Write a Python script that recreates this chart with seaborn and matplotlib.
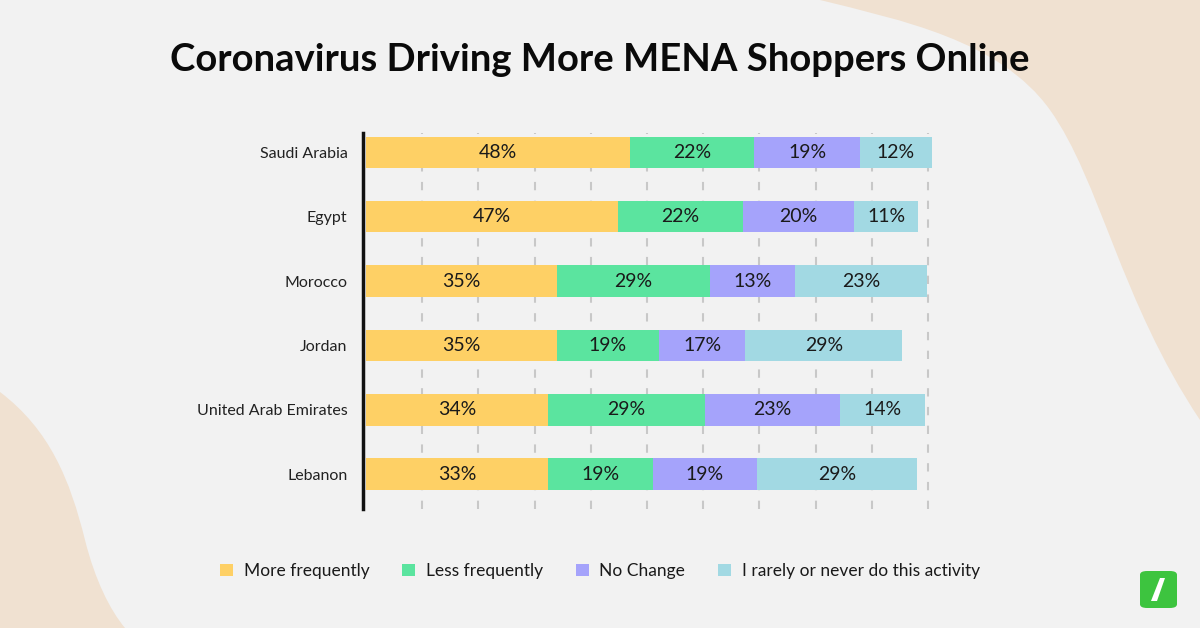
import numpy as np
import pandas as pd
import matplotlib
matplotlib.use("Agg")
import matplotlib.pyplot as plt
import seaborn as sns
from matplotlib.patches import Patch, PathPatch, FancyBboxPatch, Polygon
from matplotlib.path import Path

# data (segment widths in % of the axis, labels as printed)
countries = ["Saudi Arabia", "Egypt", "Morocco", "Jordan", "United Arab Emirates", "Lebanon"]
series = ["More frequently", "Less frequently", "No Change", "I rarely or never do this activity"]
more_freq = [46.9, 44.8, 33.9, 34.0, 32.3, 32.3]
less_freq = [22.2, 22.2, 27.3, 18.1, 28.0, 18.7]
no_change = [18.8, 19.8, 15.2, 15.4, 24.1, 18.6]
rarely = [12.8, 11.5, 23.4, 27.9, 15.1, 28.5]
more_lbl = ["48%", "47%", "35%", "35%", "34%", "33%"]
less_lbl = ["22%", "22%", "29%", "19%", "29%", "19%"]
nochg_lbl = ["19%", "20%", "13%", "17%", "23%", "19%"]
rarely_lbl = ["12%", "11%", "23%", "29%", "14%", "29%"]

colors = ["#FED065", "#5BE49F", "#A5A3FB", "#A2D9E3"]
bg = "#F2F2F2"
peach = "#F0E1D1"

sns.set_theme(style="white")
plt.rcParams["font.family"] = ["Lato", "DejaVu Sans"]

W, H = 1200, 628
fig = plt.figure(figsize=(W / 100, H / 100), dpi=100, facecolor=bg)


def px(x, y):
    return (x / W, 1 - y / H)


# background blobs
def blob(pts, codes):
    verts = [px(x, y) for x, y in pts]
    p = PathPatch(Path(verts, codes), facecolor=peach, edgecolor="none",
                  transform=fig.transFigure, zorder=0)
    fig.add_artist(p)


C4 = Path.CURVE4
blob([(820, 0), (900, 20), (1000, 40), (1050, 110),
      (1100, 180), (1120, 300), (1200, 420),
      (1200, 0), (820, 0)],
     [Path.MOVETO, C4, C4, C4, C4, C4, C4, Path.LINETO, Path.CLOSEPOLY])
blob([(0, 392), (50, 430), (70, 480), (85, 540),
      (95, 580), (110, 610), (125, 628),
      (0, 628), (0, 392)],
     [Path.MOVETO, C4, C4, C4, C4, C4, C4, Path.LINETO, Path.CLOSEPOLY])

ax = fig.add_axes([362.7 / W, 119 / H, 573.7 / W, 376 / H])
ax.set_facecolor("none")

df = pd.DataFrame({"country": countries, series[0]: more_freq, series[1]: less_freq,
                   series[2]: no_change, series[3]: rarely})
cum = df[series].cumsum(axis=1)

# draw from the widest cumulative layer down so segments stack
for k in reversed(range(4)):
    sns.barplot(data=cum.assign(country=countries), x=series[k], y="country",
                color=colors[k], width=0.49, orient="h", ax=ax,
                saturation=1, edgecolor="none", zorder=3)

labels = [more_lbl, less_lbl, nochg_lbl, rarely_lbl]
for k in range(4):
    starts = cum[series[k]] - df[series[k]]
    for i in range(len(countries)):
        ax.text(starts[i] + df[series[k]][i] / 2, i, labels[k][i],
                ha="center", va="center", fontsize=14, color="#1a1a1a", zorder=4)

ax.set_xlim(-0.6, 101.5)
ax.set_ylim(5.54, -0.3)
for g in range(10, 101, 10):
    ax.axvline(g, color="#C8C8C8", lw=1.5, ls=(0, (4, 5)), zorder=1)
for s in ["top", "right", "bottom"]:
    ax.spines[s].set_visible(False)
ax.spines["left"].set_color("#111111")
ax.spines["left"].set_linewidth(2.5)
ax.set_xticks([])
ax.set_xlabel("")
ax.set_ylabel("")
ax.tick_params(axis="y", length=0, pad=11, labelsize=11.5, labelcolor="#222222")

fig.text(0.5, 1 - 60 / H, "Coronavirus Driving More MENA Shoppers Online",
         ha="center", va="center", fontsize=27.5, fontweight="bold", color="#0a0a0a")

handles = [Patch(facecolor=c, edgecolor="none") for c in colors]
fig.legend(handles, series, loc="center", bbox_to_anchor=(0.5, 1 - 571 / H), ncol=4,
           frameon=False, fontsize=12.5, handlelength=0.75, handleheight=0.75,
           handletextpad=0.6, columnspacing=1.9, labelcolor="#1a1a1a")

# logo
fig.add_artist(FancyBboxPatch(px(1140, 608), 37 / W, 37 / H,
                              boxstyle="round,pad=0,rounding_size=0.006",
                              facecolor="#3DC43F", edgecolor="none",
                              transform=fig.transFigure, zorder=5))
fig.add_artist(Polygon([px(1151, 601), px(1157, 601), px(1165, 578), px(1160, 578)],
                       closed=True, facecolor="white", edgecolor="none",
                       transform=fig.transFigure, zorder=6))

fig.savefig("out.png", dpi=100, facecolor=bg)
